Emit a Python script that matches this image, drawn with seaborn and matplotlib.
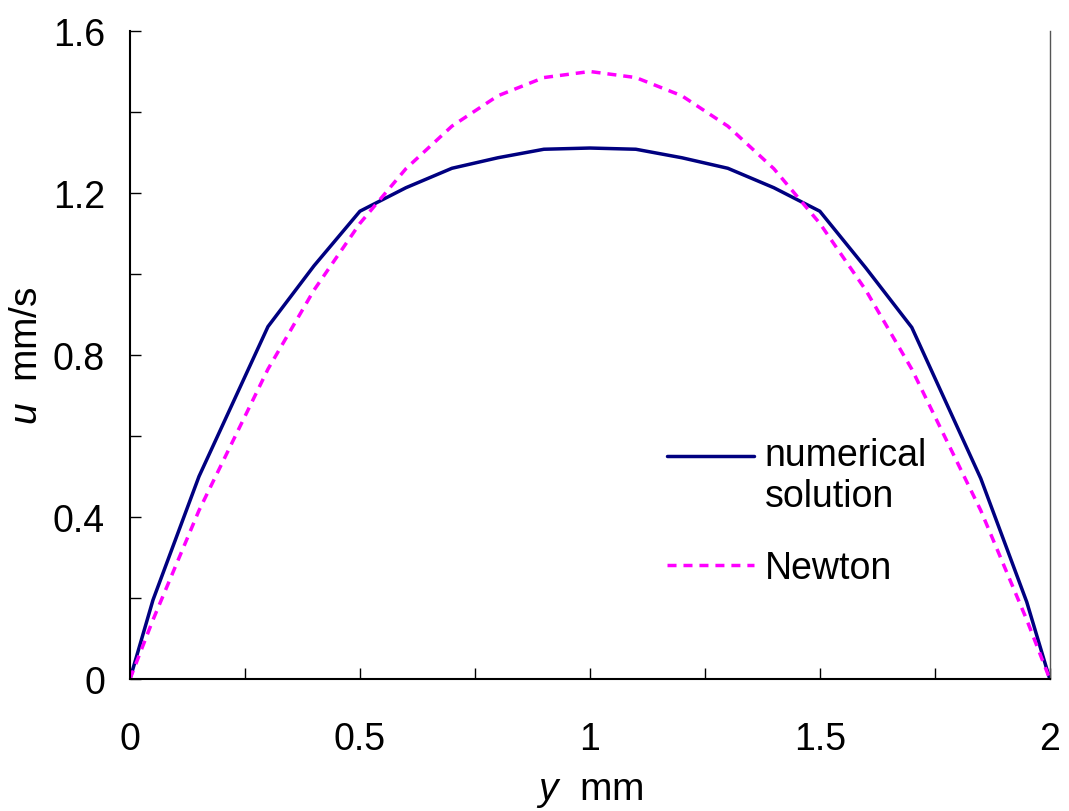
import matplotlib
matplotlib.use('Agg')
import matplotlib.pyplot as plt
import seaborn as sns
import pandas as pd
import numpy as np
from matplotlib.legend_handler import HandlerLine2D

# y position across channel (mm)
y_pos = [0, 0.05, 0.15, 0.3, 0.4, 0.5, 0.6, 0.7, 0.8, 0.9, 1.0,
         1.1, 1.2, 1.3, 1.4, 1.5, 1.6, 1.7, 1.85, 1.95, 2.0]
# velocity u (mm/s)
u_numerical = [0, 0.195, 0.50, 0.87, 1.02, 1.155, 1.213, 1.261, 1.287, 1.308, 1.311,
               1.308, 1.287, 1.261, 1.213, 1.155, 1.015, 0.868, 0.495, 0.19, 0]
u_newton = [0, 0.146, 0.416, 0.765, 0.96, 1.125, 1.26, 1.365, 1.44, 1.485, 1.5,
            1.485, 1.44, 1.365, 1.26, 1.125, 0.96, 0.765, 0.416, 0.146, 0]

x_ticks = [0, 0.5, 1, 1.5, 2]
x_ticklabels = ['0', '0.5', '1', '1.5', '2']
x_minor = [0.25, 0.75, 1.25, 1.75]
y_ticks = [0, 0.4, 0.8, 1.2, 1.6]
y_ticklabels = ['0', '0.4', '0.8', '1.2', '1.6']
y_minor = [0.2, 0.6, 1.0, 1.4]

df = pd.DataFrame({'y': y_pos, 'numerical': u_numerical, 'newton': u_newton})


class TopLineHandler(HandlerLine2D):
    # put the legend line level with the first row of a two-row label
    def create_artists(self, legend, orig_handle, xdescent, ydescent,
                       width, height, fontsize, trans):
        artists = super().create_artists(legend, orig_handle, xdescent, ydescent,
                                         width, height, fontsize, trans)
        for a in artists:
            a.set_ydata(np.asarray(a.get_ydata()) + 0.55 * fontsize)
        return artists


sns.set_style('ticks')
plt.rcParams['font.family'] = ['Liberation Sans', 'DejaVu Sans']
plt.rcParams['mathtext.fontset'] = 'custom'
plt.rcParams['mathtext.it'] = 'Liberation Sans:italic'
plt.rcParams['mathtext.rm'] = 'Liberation Sans'
plt.rcParams['text.color'] = 'black'
plt.rcParams['xtick.color'] = 'black'
plt.rcParams['ytick.color'] = 'black'
plt.rcParams['axes.labelcolor'] = 'black'

fig = plt.figure(figsize=(10.69, 8.12), dpi=100)
ax = fig.add_axes([0.1216, 0.1626, 0.8604, 0.798])

sns.lineplot(data=df, x='y', y='numerical', ax=ax, color='#000080', linewidth=2.5,
             label='numerical\nsolution')
sns.lineplot(data=df, x='y', y='newton', ax=ax, color='#FF00FF', linewidth=2.5,
             label='Newton')
ax.lines[1].set_dashes([2.6, 2.0])

ax.set_xlim(0, 2)
ax.set_ylim(0, 1.6)
ax.set_xticks(x_ticks, x_ticklabels)
ax.set_xticks(x_minor, minor=True)
ax.set_yticks(y_ticks, y_ticklabels)
ax.set_yticks(y_minor, minor=True)
ax.tick_params(which='both', direction='in', length=8, width=1, labelsize=27)
ax.tick_params(axis='x', which='both', pad=30)
ax.tick_params(axis='y', which='both', pad=18)

for side in ['left', 'bottom']:
    ax.spines[side].set_linewidth(1.5)
    ax.spines[side].set_color('black')
ax.spines['top'].set_visible(False)
ax.spines['right'].set_linewidth(1.0)
ax.spines['right'].set_color('#555555')

ax.set_xlabel(r'$y$  mm', fontsize=28, labelpad=12)
ax.set_ylabel(r'$u$  mm/s', fontsize=28)
ax.yaxis.set_label_coords(-0.092, 0.5)

h, l = ax.get_legend_handles_labels()
ax.legend(h, l, loc='upper left', bbox_to_anchor=(0.568, 0.397), frameon=False, fontsize=27,
          handlelength=2.3, handletextpad=0.3, labelspacing=0.95, borderaxespad=0,
          handler_map={h[0]: TopLineHandler()})

plt.savefig('out.png', dpi=100)
